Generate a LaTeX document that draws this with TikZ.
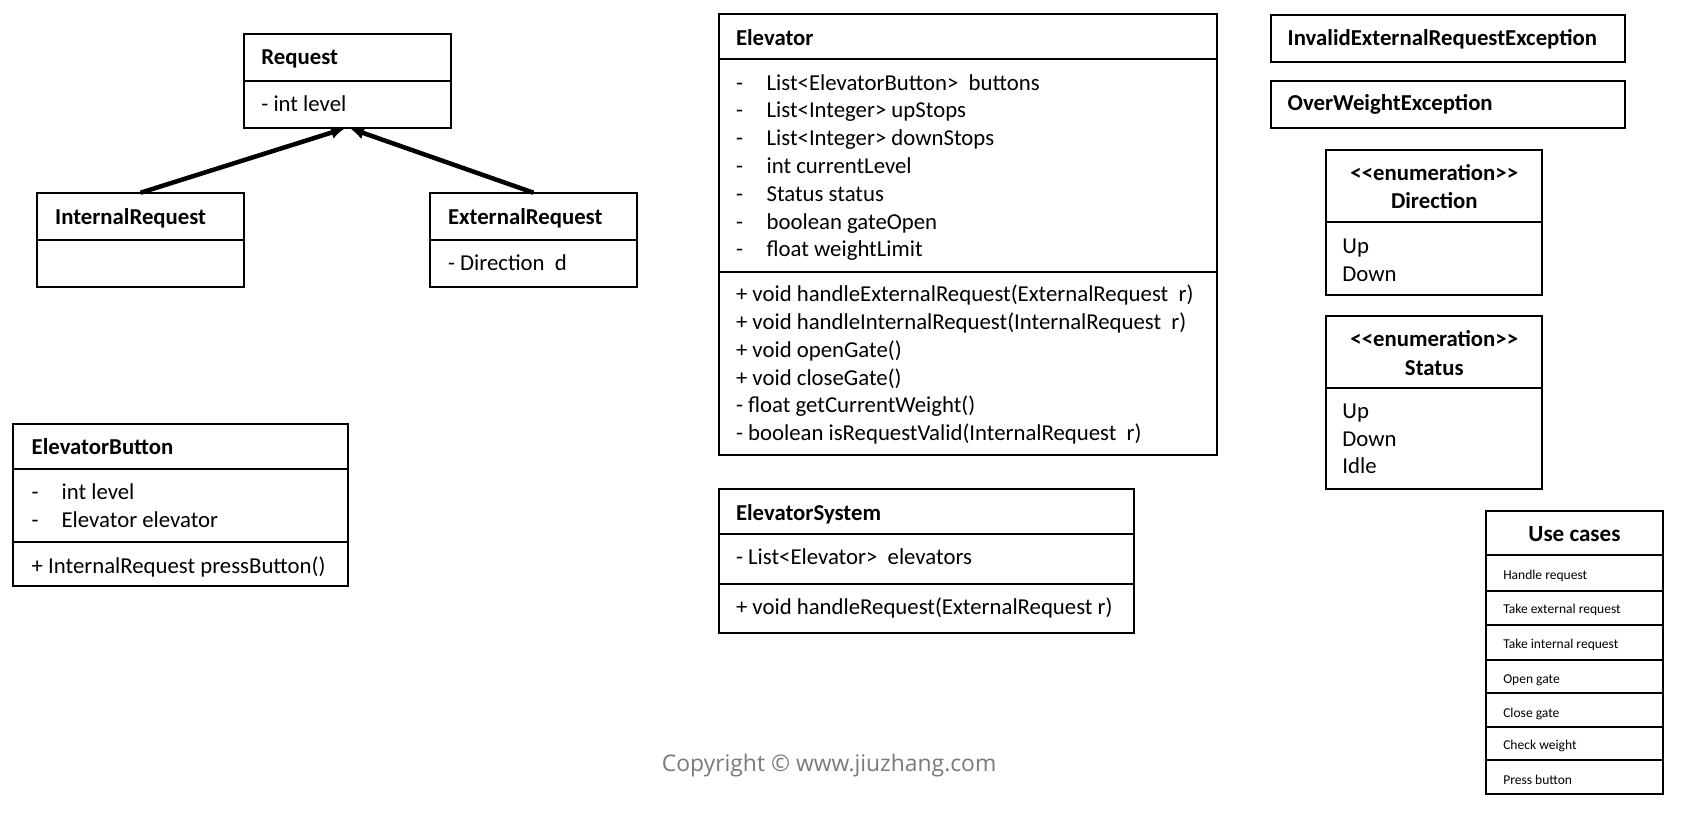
\documentclass[tikz,border=0pt]{standalone}
\usepackage{fontspec}
\setmainfont{Carlito}
\newfontfamily\copyfont{Open Sans}
\usetikzlibrary{arrows.meta}
\newcommand\mylines[1]{\begin{tabular}[t]{@{}l@{}}#1\end{tabular}}
\newcommand\dsh{\makebox[28.5pt][l]{-}}
\newcommand\dshb{\makebox[27.9pt][l]{-}}
\begin{document}
\begin{tikzpicture}[x=1pt,y=-1pt,
  box/.style={draw,line width=1.8pt,inner sep=0pt,outer sep=0pt,anchor=north west},
  sep/.style={line width=1.8pt},
  txt/.style={inner sep=0pt,outer sep=0pt,anchor=base west,font=\fontsize{21.2}{25.9}\selectfont},
  ttl/.style={txt,font=\fontsize{21.2}{25.9}\selectfont\bfseries},
  ctitle/.style={ttl,anchor=base},
  small/.style={txt,font=\fontsize{12.6}{15}\selectfont},
  inh/.style={line width=4.2pt,-{Latex[length=13pt,width=12pt]}}]
\useasboundingbox[fill=white] (0,0) rectangle (1568,758);

% ---------- Request hierarchy ----------
\node[box,minimum width=192.8pt,minimum height=88.2pt] (req) at (226.8,31.3) {};
\draw[sep] (req.west |- 0,75.1) -- (req.east |- 0,75.1);
\node[ttl] (reqT) at (243.4,60.5) {Request};
\node[txt] (reqA) at (243.4,103.4) {- int level};

\node[box,minimum width=192.4pt,minimum height=88.1pt] (ir) at (34.8,179.4) {};
\draw[sep] (ir.west |- 0,223.5) -- (ir.east |- 0,223.5);
\node[ttl] (irT) at (51.4,208.6) {InternalRequest};

\node[box,minimum width=192.7pt,minimum height=88.1pt] (er) at (400.3,179.4) {};
\draw[sep] (er.west |- 0,223.5) -- (er.east |- 0,223.5);
\node[ttl] (erT) at (417.2,208.6) {ExternalRequest};
\node[txt] (erA) at (417.2,252) {- Direction\ \ d};

\draw[inh] (ir.north) -- ([xshift=-2pt]req.south);
\draw[inh] (er.north) -- ([xshift=2.7pt]req.south);

% ---------- ElevatorButton ----------
\node[box,minimum width=311.3pt,minimum height=150.8pt] (eb) at (12.4,394.8) {};
\draw[sep] (eb.west |- 0,437) -- (eb.east |- 0,437);
\draw[sep] (eb.west |- 0,505) -- (eb.east |- 0,505);
\node[ttl] (ebT) at (29.5,423) {ElevatorButton};
\node[txt] (ebA) at (29.5,465.5) {\mylines{\dshb int level\\ \dshb Elevator elevator}};
\node[txt] (ebM) at (29.5,533.8) {+ InternalRequest pressButton()};

% ---------- Elevator ----------
\node[box,minimum width=463.4pt,minimum height=410.7pt] (el) at (669.4,13) {};
\draw[sep] (el.west |- 0,55.2) -- (el.east |- 0,55.2);
\draw[sep] (el.west |- 0,253) -- (el.east |- 0,253);
\node[ttl] (elT) at (685.3,41.9) {Elevator};
\node[txt] (elA) at (685.3,83.8) {\mylines{%
  \dsh List<ElevatorButton>\ \ buttons\\
  \dsh List<Integer> upStops\\
  \dsh List<Integer> downStops\\
  \dsh int currentLevel\\
  \dsh Status status\\
  \dsh boolean gateOpen\\
  \dsh float weightLimit}};
\node[txt] (elM) at (685.3,280.9) {\mylines{%
  + void handleExternalRequest(ExternalRequest\ \ r)\\
  + void handleInternalRequest(InternalRequest\ \ r)\\
  + void openGate()\\
  + void closeGate()\\
  - float getCurrentWeight()\\
  - boolean isRequestValid(InternalRequest\ \ r)}};

% ---------- ElevatorSystem ----------
\node[box,minimum width=386.4pt,minimum height=134.1pt] (es) at (669.2,455.6) {};
\draw[sep] (es.west |- 0,497.2) -- (es.east |- 0,497.2);
\draw[sep] (es.west |- 0,543.5) -- (es.east |- 0,543.5);
\node[ttl] (esT) at (685.3,484.2) {ElevatorSystem};
\node[txt] (esA) at (685.3,526) {- List<Elevator>\ \ elevators};
\node[txt] (esM) at (685.3,572.6) {+ void handleRequest(ExternalRequest r)};

% ---------- Exceptions ----------
\node[box,minimum width=330pt,minimum height=44pt] (inv) at (1183,13.7) {};
\node[ttl] (invT) at (1199,41.9) {InvalidExternalRequestException};
\node[box,minimum width=330pt,minimum height=44.1pt] (ow) at (1183,75.1) {};
\node[ttl] (owT) at (1199,103) {OverWeightException};

% ---------- Enumerations ----------
\node[box,minimum width=201pt,minimum height=135.3pt] (dir) at (1235,139.7) {};
\draw[sep] (dir.west |- 0,207) -- (dir.east |- 0,207);
\node[ctitle] (dirS) at (1335.5,167.6) {<\kern0pt<enumeration>\kern0pt>};
\node[ctitle] (dirT) at (1335.5,194) {Direction};
\node[txt] (dirV) at (1250,235.9) {\mylines{Up\\Down}};

\node[box,minimum width=201pt,minimum height=161.4pt] (st) at (1235,294.2) {};
\draw[sep] (st.west |- 0,361.6) -- (st.east |- 0,361.6);
\node[ctitle] (stS) at (1335.5,322.8) {<\kern0pt<enumeration>\kern0pt>};
\node[ctitle] (stT) at (1335.5,349.2) {Status};
\node[txt] (stV) at (1250,389.5) {\mylines{Up\\Down\\Idle}};

% ---------- Use cases ----------
\node[box,minimum width=165.4pt,minimum height=263.5pt] (uc) at (1383.3,475.5) {};
\foreach \yy in {517,550,582.2,614.8,645.5,676.9,707.9}
  \draw[sep] (uc.west |- 0,\yy) -- (uc.east |- 0,\yy);
\node[ttl,anchor=base,font=\fontsize{21.5}{26}\selectfont\bfseries] (ucT) at (1466,504.4) {Use cases};
\node[small] (uc1) at (1399.7,539.4) {Handle request};
\node[small] (uc2) at (1399.7,571) {Take external request};
\node[small] (uc3) at (1399.7,603.6) {Take internal request};
\node[small] (uc4) at (1399.7,636.2) {Open gate};
\node[small] (uc5) at (1399.7,667.9) {Close gate};
\node[small] (uc6) at (1399.7,698.3) {Check weight};
\node[small] (uc7) at (1399.7,730) {Press button};

% ---------- Copyright ----------
\node[inner sep=0pt,anchor=base,font=\copyfont\fontsize{21.3}{25}\selectfont,text=black!52] (copy) at (772,718.5) {Copyright © www.jiuzhang.com};
\end{tikzpicture}
\end{document}
